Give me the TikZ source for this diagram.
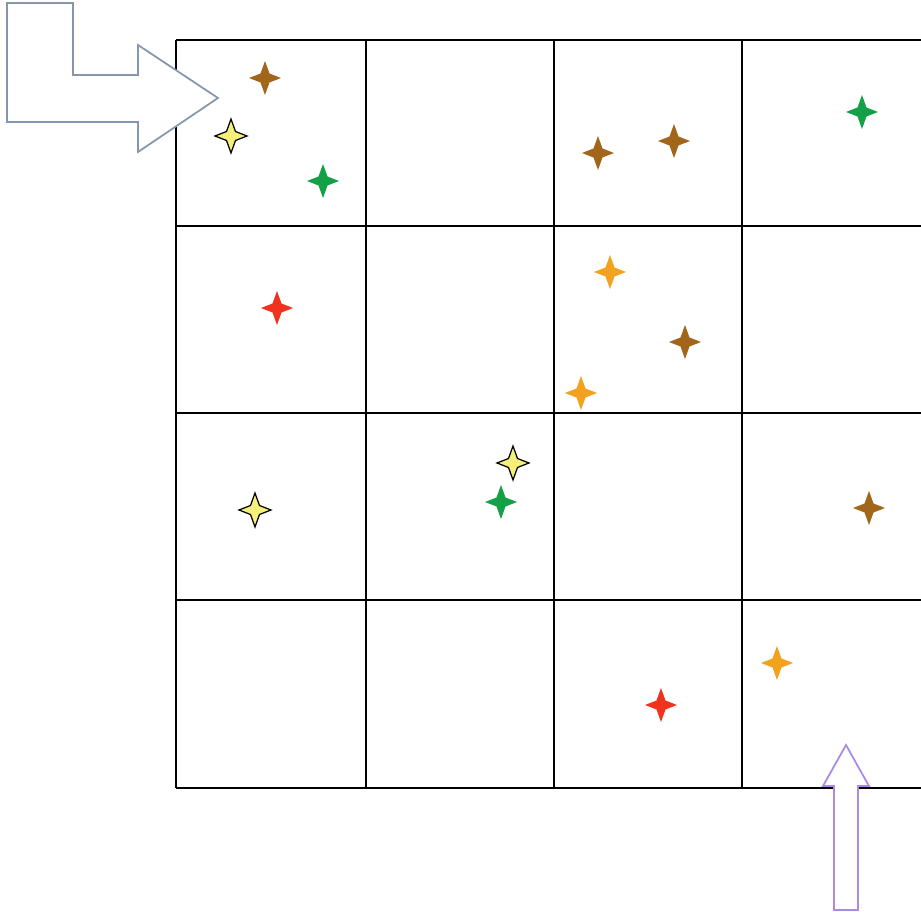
\documentclass[tikz,border=0pt]{standalone}
\usepackage{tikz}

\definecolor{starbrown}{HTML}{A2661A}
\definecolor{starorange}{HTML}{F2A21E}
\definecolor{stargreen}{HTML}{14A046}
\definecolor{starred}{HTML}{F0321E}
\definecolor{staryellow}{HTML}{F4F07A}
\definecolor{arrowblue}{HTML}{8497AE}
\definecolor{arrowlilac}{HTML}{A98AE6}

\tikzset{
  sparkle/.pic={
    \path[pic actions] (0,-17) -- (4.5,-4.5) -- (16,0) -- (4.5,4.5) -- (0,17)
      -- (-4.5,4.5) -- (-16,0) -- (-4.5,-4.5) -- cycle;
  },
  gridline/.style={black, line width=0.8pt}
}

\begin{document}
\begin{tikzpicture}[x=0.02cm, y=-0.02cm]
\useasboundingbox (0,0) rectangle (921,912);
% grid
\foreach \y in {40,226,413,600,788}
  \draw[gridline] (176,\y) -- (921,\y);
\foreach \x in {176,366,554,742}
  \draw[gridline] (\x,40) -- (\x,788);
% arrows
\draw[arrowblue, fill=white, line width=1pt, line join=miter]
  (7,3) -- (73,3) -- (73,75) -- (138,75) -- (138,45) -- (218,98)
  -- (138,152) -- (138,122) -- (7,122) -- cycle;
\draw[arrowlilac, fill=white, line width=1pt, line join=miter]
  (834,910) -- (834,786) -- (823,786) -- (846,745) -- (869,786)
  -- (858,786) -- (858,910) -- cycle;
% stars
\pic[fill=starbrown] at (265,78) {sparkle};
\pic[fill=staryellow, draw=black, line width=0.7pt] at (231,136) {sparkle};
\pic[fill=stargreen] at (323,181) {sparkle};
\pic[fill=starbrown] at (598,153) {sparkle};
\pic[fill=starbrown] at (674,141) {sparkle};
\pic[fill=stargreen] at (862,112) {sparkle};
\pic[fill=starred] at (277,308) {sparkle};
\pic[fill=starorange] at (610,272) {sparkle};
\pic[fill=starbrown] at (685,342) {sparkle};
\pic[fill=starorange] at (581,393) {sparkle};
\pic[fill=staryellow, draw=black, line width=0.7pt] at (513,463) {sparkle};
\pic[fill=stargreen] at (501,502) {sparkle};
\pic[fill=staryellow, draw=black, line width=0.7pt] at (255,510) {sparkle};
\pic[fill=starbrown] at (869,508) {sparkle};
\pic[fill=starorange] at (777,663) {sparkle};
\pic[fill=starred] at (661,705) {sparkle};
\end{tikzpicture}
\end{document}
